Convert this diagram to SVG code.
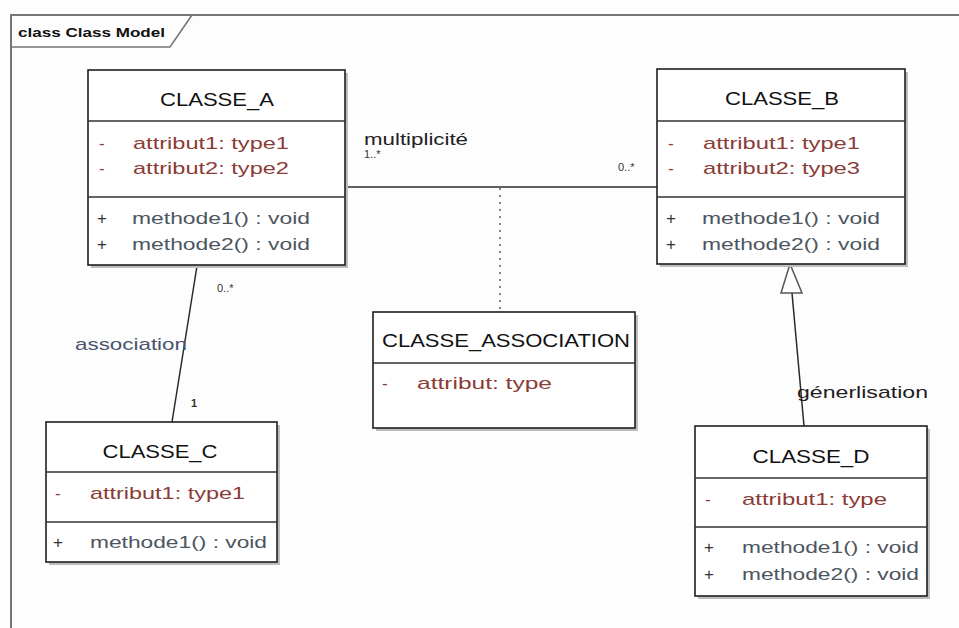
<svg xmlns="http://www.w3.org/2000/svg" width="959" height="628" viewBox="0 0 959 628">
<style>
text{font-family:"Liberation Sans",Arial,sans-serif}
.box{fill:#fff;stroke:#1e1e1e;stroke-width:1.6}
.shadow{fill:#bdbdbd}
.div{stroke:#333;stroke-width:1.4}
.title{font-size:18px;fill:#111;text-anchor:middle}
.attr{font-size:17px;fill:#8a3c37}
.vis{font-size:17px;fill:#8a3c37}
.meth{font-size:17px;fill:#4d5660}
.plus{font-size:17px;fill:#333}
.lbl{font-size:16px;fill:#222}
.mult{font-size:11px;fill:#333}
.conn{stroke:#2a2a2a;stroke-width:1.5;fill:none}
</style>
<rect x="0" y="0" width="959" height="628" fill="#fdfdfd"/>
<g id="frame">
<path d="M11,628 L11,15 L959,15" fill="none" stroke="#777" stroke-width="2"/>
<path d="M11,47 L170,47 L192,15" fill="none" stroke="#777" stroke-width="1.6"/>
<text x="18" y="37" font-size="12" font-weight="bold" fill="#111" textLength="147" lengthAdjust="spacingAndGlyphs">class Class Model</text>
</g>
<g id="connectors">
<line class="conn" x1="345" y1="187" x2="657" y2="187"/>
<line x1="500" y1="188" x2="500" y2="312" stroke="#666" stroke-width="1.6" stroke-dasharray="2,5"/>
<line class="conn" x1="197" y1="266" x2="172" y2="422"/>
<line class="conn" x1="804" y1="426" x2="792" y2="293"/>
<polygon points="790,264 781,293 802,293" fill="#fff" stroke="#555" stroke-width="1.5"/>
<text class="lbl" x="364" y="145" textLength="104" lengthAdjust="spacingAndGlyphs">multiplicité</text>
<text class="mult" x="364" y="158">1..*</text>
<text class="mult" x="618" y="171" fill="#555" font-size="12">0..*</text>
<text class="mult" x="217" y="292" fill="#555">0..*</text>
<text class="mult" x="191" y="407" font-weight="bold" font-size="12">1</text>
<text x="75" y="350" font-size="17" fill="#4a5470" textLength="112" lengthAdjust="spacingAndGlyphs">association</text>
<text x="797" y="398" font-size="17" fill="#1e1e1e" textLength="131" lengthAdjust="spacingAndGlyphs">génerlisation</text>
</g>
<g id="classe_a">
<rect class="shadow" x="91" y="73" width="257" height="195"/>
<rect class="box" x="88" y="70" width="257" height="195"/>
<line class="div" x1="88" y1="121" x2="345" y2="121"/>
<line class="div" x1="88" y1="197" x2="345" y2="197"/>
<text class="title" x="217" y="106" textLength="114" lengthAdjust="spacingAndGlyphs">CLASSE_A</text>
<text class="vis" x="99" y="149">-</text>
<text class="attr" x="133" y="149" textLength="156" lengthAdjust="spacingAndGlyphs">attribut1:  type1</text>
<text class="vis" x="99" y="174">-</text>
<text class="attr" x="133" y="174" textLength="156" lengthAdjust="spacingAndGlyphs">attribut2:  type2</text>
<text class="plus" x="97" y="224">+</text>
<text class="meth" x="132" y="224" textLength="178" lengthAdjust="spacingAndGlyphs">methode1() : void</text>
<text class="plus" x="97" y="250">+</text>
<text class="meth" x="132" y="250" textLength="178" lengthAdjust="spacingAndGlyphs">methode2() : void</text>
</g>
<g id="classe_b">
<rect class="shadow" x="660" y="72" width="248" height="195"/>
<rect class="box" x="657" y="69" width="248" height="195"/>
<line class="div" x1="657" y1="121" x2="905" y2="121"/>
<line class="div" x1="657" y1="197" x2="905" y2="197"/>
<text class="title" x="782" y="105" textLength="114" lengthAdjust="spacingAndGlyphs">CLASSE_B</text>
<text class="vis" x="668" y="149">-</text>
<text class="attr" x="703" y="149" textLength="157" lengthAdjust="spacingAndGlyphs">attribut1:  type1</text>
<text class="vis" x="668" y="174">-</text>
<text class="attr" x="703" y="174" textLength="157" lengthAdjust="spacingAndGlyphs">attribut2:  type3</text>
<text class="plus" x="666" y="224">+</text>
<text class="meth" x="702" y="224" textLength="178" lengthAdjust="spacingAndGlyphs">methode1() : void</text>
<text class="plus" x="666" y="250">+</text>
<text class="meth" x="702" y="250" textLength="178" lengthAdjust="spacingAndGlyphs">methode2() : void</text>
</g>
<g id="classe_association">
<rect class="shadow" x="376" y="315" width="262" height="116"/>
<rect class="box" x="373" y="312" width="262" height="116"/>
<line class="div" x1="373" y1="363" x2="635" y2="363"/>
<text class="title" x="506" y="347" textLength="248" lengthAdjust="spacingAndGlyphs">CLASSE_ASSOCIATION</text>
<text class="vis" x="382" y="389">-</text>
<text class="attr" x="417" y="389" textLength="135" lengthAdjust="spacingAndGlyphs">attribut:  type</text>
</g>
<g id="classe_c">
<rect class="shadow" x="49" y="425" width="231" height="140"/>
<rect class="box" x="46" y="422" width="231" height="140"/>
<line class="div" x1="46" y1="472" x2="277" y2="472"/>
<line class="div" x1="46" y1="522" x2="277" y2="522"/>
<text class="title" x="160" y="458" textLength="115" lengthAdjust="spacingAndGlyphs">CLASSE_C</text>
<text class="vis" x="55" y="499">-</text>
<text class="attr" x="90" y="499" textLength="155" lengthAdjust="spacingAndGlyphs">attribut1:  type1</text>
<text class="plus" x="53" y="548">+</text>
<text class="meth" x="90" y="548" textLength="177" lengthAdjust="spacingAndGlyphs">methode1() : void</text>
</g>
<g id="classe_d">
<rect class="shadow" x="698" y="429" width="232" height="170"/>
<rect class="box" x="695" y="426" width="232" height="170"/>
<line class="div" x1="695" y1="478" x2="927" y2="478"/>
<line class="div" x1="695" y1="527" x2="927" y2="527"/>
<text class="title" x="811" y="463" textLength="117" lengthAdjust="spacingAndGlyphs">CLASSE_D</text>
<text class="vis" x="705" y="505">-</text>
<text class="attr" x="742" y="505" textLength="145" lengthAdjust="spacingAndGlyphs">attribut1:  type</text>
<text class="plus" x="704" y="553">+</text>
<text class="meth" x="742" y="553" textLength="177" lengthAdjust="spacingAndGlyphs">methode1() : void</text>
<text class="plus" x="704" y="580">+</text>
<text class="meth" x="742" y="580" textLength="177" lengthAdjust="spacingAndGlyphs">methode2() : void</text>
</g>
</svg>
